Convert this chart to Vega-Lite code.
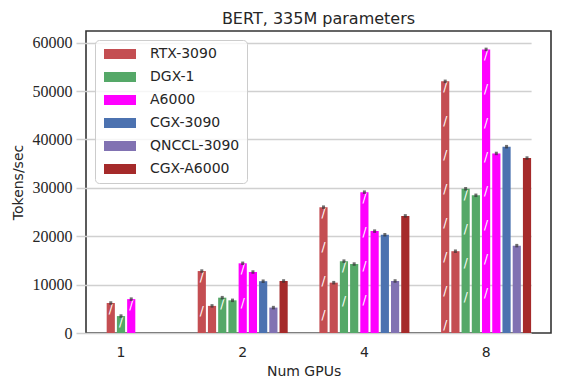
{
  "$schema": "https://vega.github.io/schema/vega-lite/v6.json",
  "width": 465,
  "height": 302,
  "autosize": {"type": "none"},
  "padding": {"left": 86, "top": 31, "right": 10, "bottom": 59},
  "background": "white",
  "title": {"text": "BERT, 335M parameters", "font": "DejaVu Sans", "fontSize": 16, "fontWeight": "normal", "color": "#262626", "anchor": "middle", "frame": "group", "baseline": "alphabetic", "offset": 6, "dy": 15},
  "config": {
    "font": "DejaVu Sans",
    "view": {"stroke": "#333333", "strokeWidth": 1.6},
    "axis": {"domain": false, "ticks": false, "tickSize": 0, "labelColor": "#262626", "titleColor": "#262626", "titleFont": "DejaVu Sans", "titleFontSize": 14, "titleFontWeight": "normal"},
    "axisY": {"labelFont": "Liberation Serif", "labelFontSize": 16, "labelPadding": 14, "titlePadding": 7, "gridColor": "#d0d0d0", "gridWidth": 1.3},
    "axisX": {"labelFont": "DejaVu Sans", "labelFontSize": 14, "labelPadding": 12, "titlePadding": 5, "labelAngle": 0},
    "legend": {"orient": "top-left", "offset": 9, "padding": 7, "rowPadding": 9, "symbolType": "M-1,-1H5.4V1H-1Z", "symbolSize": 100, "symbolStrokeWidth": 0, "symbolOpacity": 1, "labelFont": "DejaVu Sans", "labelFontSize": 14, "labelColor": "#262626", "labelOffset": 34, "labelLimit": 200, "strokeColor": "#cccccc", "fillColor": "rgba(255,255,255,0.8)", "cornerRadius": 4}
  },
  "data": {"values": [
    {"gpus": "1", "system": "RTX-3090", "config": "A", "tokens": 6200},
    {"gpus": "1", "system": "DGX-1", "config": "A", "tokens": 3500},
    {"gpus": "1", "system": "A6000", "config": "A", "tokens": 7000},
    {"gpus": "2", "system": "RTX-3090", "config": "A", "tokens": 12800},
    {"gpus": "2", "system": "RTX-3090", "config": "B", "tokens": 5600},
    {"gpus": "2", "system": "DGX-1", "config": "A", "tokens": 7300},
    {"gpus": "2", "system": "DGX-1", "config": "B", "tokens": 6750},
    {"gpus": "2", "system": "A6000", "config": "A", "tokens": 14400},
    {"gpus": "2", "system": "A6000", "config": "B", "tokens": 12600},
    {"gpus": "2", "system": "CGX-3090", "config": "B", "tokens": 10700},
    {"gpus": "2", "system": "QNCCL-3090", "config": "B", "tokens": 5250},
    {"gpus": "2", "system": "CGX-A6000", "config": "B", "tokens": 10750},
    {"gpus": "4", "system": "RTX-3090", "config": "A", "tokens": 26000},
    {"gpus": "4", "system": "RTX-3090", "config": "B", "tokens": 10400},
    {"gpus": "4", "system": "DGX-1", "config": "A", "tokens": 14850},
    {"gpus": "4", "system": "DGX-1", "config": "B", "tokens": 14250},
    {"gpus": "4", "system": "A6000", "config": "A", "tokens": 29100},
    {"gpus": "4", "system": "A6000", "config": "B", "tokens": 21050},
    {"gpus": "4", "system": "CGX-3090", "config": "B", "tokens": 20300},
    {"gpus": "4", "system": "QNCCL-3090", "config": "B", "tokens": 10750},
    {"gpus": "4", "system": "CGX-A6000", "config": "B", "tokens": 24200},
    {"gpus": "8", "system": "RTX-3090", "config": "A", "tokens": 52000},
    {"gpus": "8", "system": "RTX-3090", "config": "B", "tokens": 16900},
    {"gpus": "8", "system": "DGX-1", "config": "A", "tokens": 29800},
    {"gpus": "8", "system": "DGX-1", "config": "B", "tokens": 28450},
    {"gpus": "8", "system": "A6000", "config": "A", "tokens": 58600},
    {"gpus": "8", "system": "A6000", "config": "B", "tokens": 37100},
    {"gpus": "8", "system": "CGX-3090", "config": "B", "tokens": 38500},
    {"gpus": "8", "system": "QNCCL-3090", "config": "B", "tokens": 18050},
    {"gpus": "8", "system": "CGX-A6000", "config": "B", "tokens": 36150}
  ]},
  "transform": [
    {"window": [{"op": "row_number", "as": "rn"}], "groupby": ["gpus"]},
    {"joinaggregate": [{"op": "count", "as": "n"}], "groupby": ["gpus"]},
    {"calculate": "datum.rn - 1 + (9 - datum.n) / 2", "as": "slot"},
    {"calculate": "max(0, floor((datum.tokens / 206.6 - 12) / 34) + 1)", "as": "hn"},
    {"calculate": "substring(replace(pad('', datum.hn, 'x'), regexp('x', 'g'), '/|'), 0, 2 * datum.hn - 1)", "as": "hatch"}
  ],
  "encoding": {
    "x": {"field": "gpus", "type": "ordinal", "sort": ["1", "2", "4", "8"],
      "scale": {"range": [-10, 445.1], "paddingInner": 0.2605, "paddingOuter": 0},
      "axis": {"title": "Num GPUs"}},
    "xOffset": {"field": "slot", "type": "ordinal", "scale": {"domain": [0, 1, 2, 3, 4, 5, 6, 7, 8], "paddingInner": 0.2, "paddingOuter": 0}},
    "y": {"field": "tokens", "type": "quantitative", "scale": {"domain": [0, 62400], "nice": false},
      "axis": {"title": "Tokens/sec", "values": [0, 10000, 20000, 30000, 40000, 50000, 60000], "format": "d"}}
  },
  "layer": [
    {
      "mark": {"type": "bar"},
      "encoding": {
        "color": {"field": "system", "type": "nominal", "title": null,
          "scale": {"domain": ["RTX-3090", "DGX-1", "A6000", "CGX-3090", "QNCCL-3090", "CGX-A6000"], "range": ["#c44e52", "#55a868", "#ff00ff", "#4c72b0", "#8172b2", "#a52a2a"]}}
      }
    },
    {
      "transform": [{"filter": "datum.config === 'A'"}],
      "mark": {"type": "text", "lineBreak": "|", "lineHeight": 34, "baseline": "top", "align": "center", "color": "white", "fontSize": 12, "font": "DejaVu Sans", "dy": 1},
      "encoding": {
        "text": {"field": "hatch"}
      }
    },
    {
      "mark": {"type": "tick", "color": "#333333", "size": 3, "thickness": 3.5},
      "encoding": {}
    }
  ]
}
